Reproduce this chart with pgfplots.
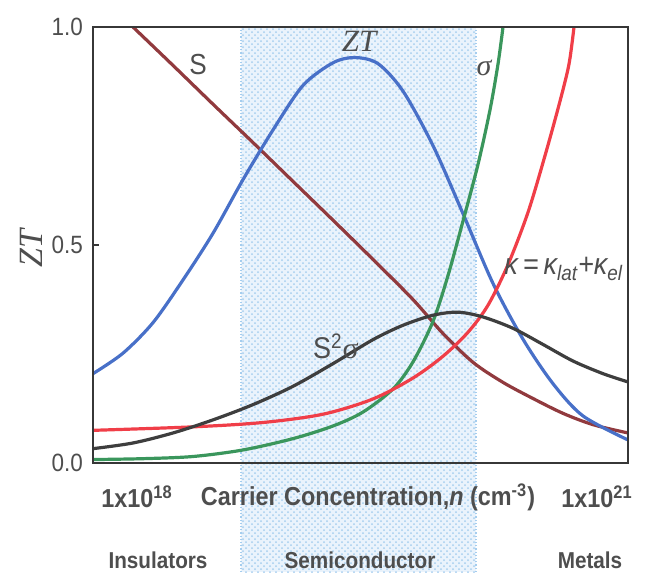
\documentclass[border=0pt]{standalone}
\usepackage{pgfplots}
\pgfplotsset{compat=1.18}
\usepackage{fontspec}
\setmainfont{Liberation Sans}[FakeStretch=0.9]
\newfontfamily\serif{Liberation Serif}
\usetikzlibrary{patterns}
\definecolor{cS}{RGB}{145,58,62}
\definecolor{cZT}{RGB}{72,112,200}
\definecolor{csig}{RGB}{58,150,92}
\definecolor{ckap}{RGB}{240,62,72}
\definecolor{cpf}{RGB}{62,62,62}
\definecolor{textgray}{RGB}{78,78,78}
\definecolor{axisgray}{RGB}{55,55,55}
\definecolor{shadeblue}{RGB}{234,243,252}
\definecolor{dotblue}{RGB}{165,205,238}
\begin{document}
\begin{tikzpicture}
\begin{axis}[
 scale only axis, width=267.5pt, height=218pt,
 xmin=0, xmax=535, ymin=0, ymax=1,
 clip=false, axis on top,
 xtick=\empty, ytick={0,0.5,1}, yticklabels={0.0,0.5,1.0},
 ytick pos=left, tick align=inside, major tick length=3pt,
 tick style={axisgray, line width=0.8pt},
 axis line style={axisgray, line width=0.8pt},
 yticklabel style={font=\fontsize{12.5}{14}\selectfont, text=textgray, xshift=-1.5pt},
]
\coordinate (bbsw) at (axis cs:-93,-0.2500);
\coordinate (bbne) at (axis cs:559,1.0620);
% shaded semiconductor region
\fill[shadeblue] (axis cs:148,-0.25) rectangle (axis cs:383,1);
\fill[pattern=crosshatch dots, pattern color=dotblue] (axis cs:148,-0.25) rectangle (axis cs:383,1);
\draw[dotblue, densely dotted, line width=0.6pt] (axis cs:148,-0.25) -- (axis cs:148,1);
\draw[dotblue, densely dotted, line width=0.6pt] (axis cs:383,-0.25) -- (axis cs:383,1);

% S
\addplot[cS, line width=1.6pt, smooth, tension=0.5] coordinates {
(40,1.0) (80,0.912) (120,0.823) (160,0.735) (200,0.646) (240,0.557) (280,0.467)
(320,0.375) (350,0.297) (380,0.231) (410,0.185) (440,0.148) (470,0.114)
(500,0.088) (535,0.069)};
% ZT
\addplot[cZT, line width=1.6pt, smooth, tension=0.5] coordinates {
(0,0.205) (30,0.252) (60,0.322) (90,0.420) (120,0.527) (150,0.650) (180,0.764)
(210,0.866) (240,0.918) (262,0.930) (285,0.916) (310,0.853) (340,0.728)
(370,0.572) (400,0.412) (430,0.284) (460,0.182) (490,0.108) (535,0.053)};
% sigma
\addplot[csig, line width=1.6pt, smooth, tension=0.5] coordinates {
(0,0.008) (50,0.010) (100,0.015) (150,0.030) (200,0.056) (240,0.085) (270,0.117)
(300,0.170) (320,0.232) (340,0.325) (355,0.430) (370,0.555) (385,0.685)
(397,0.810) (405,0.915) (410,1.0)};
% kappa
\addplot[ckap, line width=1.6pt, smooth, tension=0.5] coordinates {
(0,0.075) (100,0.083) (170,0.093) (230,0.112) (280,0.147) (320,0.195)
(350,0.245) (375,0.300) (395,0.362) (415,0.455) (435,0.575) (452,0.705)
(467,0.830) (476,0.915) (481,1.0)};
% S^2 sigma
\addplot[cpf, line width=1.6pt, smooth, tension=0.5] coordinates {
(0,0.033) (40,0.046) (80,0.069) (120,0.099) (160,0.134) (200,0.176) (240,0.228)
(280,0.283) (310,0.316) (340,0.339) (365,0.346) (390,0.335) (420,0.309)
(450,0.272) (480,0.234) (510,0.205) (535,0.186)};

% curve labels
\node[text=textgray, font=\fontsize{14.5}{16}\selectfont] at (axis cs:105,0.913) {S};
\node[text=textgray, font=\fontsize{15.5}{17}\selectfont\serif\itshape] at (axis cs:266,0.968) {ZT};
\node[text=textgray, font=\fontsize{15}{17}\selectfont\serif\itshape] at (axis cs:391,0.906) {σ};
\node[text=textgray, font=\fontsize{15}{17}\selectfont] at (axis cs:243,0.268) {S\textsuperscript{2}{\serif σ}};
\node[text=textgray, anchor=west, font=\fontsize{15}{17}\selectfont\itshape, inner sep=0pt] at (axis cs:411,0.445)
 {κ\,=\,κ\textsubscript{lat}+κ\textsubscript{el}};
% axis label
\node[text=textgray, rotate=90, font=\fontsize{17}{19}\selectfont\serif\itshape] at (axis cs:-62,0.493) {ZT};
\node[text=textgray, font=\fontsize{13}{15}\selectfont\bfseries] at (axis cs:44,-0.078) {1x10\textsuperscript{18}};
\node[text=textgray, font=\fontsize{13}{15}\selectfont\bfseries] at (axis cs:275,-0.078) {Carrier Concentration,\textit{n} (cm\textsuperscript{-3})};
\node[text=textgray, font=\fontsize{13}{15}\selectfont\bfseries] at (axis cs:504,-0.078) {1x10\textsuperscript{21}};
% region labels
\node[text=textgray, font=\fontsize{11.5}{14}\selectfont\bfseries] at (axis cs:65,-0.2225) {Insulators};
\node[text=textgray, font=\fontsize{11.5}{14}\selectfont\bfseries] at (axis cs:267,-0.2225) {Semiconductor};
\node[text=textgray, font=\fontsize{11.5}{14}\selectfont\bfseries] at (axis cs:497,-0.2225) {Metals};
\end{axis}
\pgfresetboundingbox
\useasboundingbox (bbsw) rectangle (bbne);
\end{tikzpicture}
\end{document}
